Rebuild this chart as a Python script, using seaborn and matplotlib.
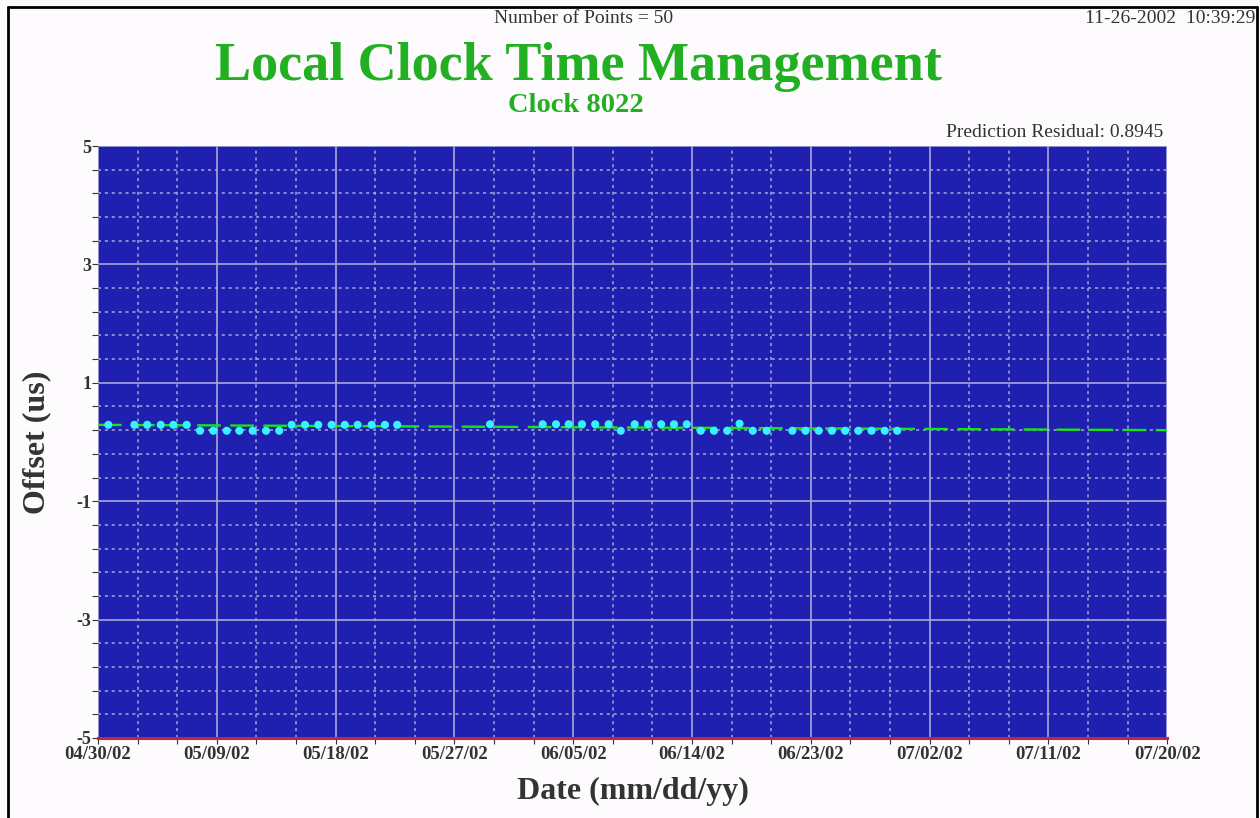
import numpy as np
import pandas as pd
import matplotlib
matplotlib.use("Agg")
import matplotlib.pyplot as plt
import matplotlib.dates as mdates
from matplotlib.ticker import FixedLocator
import seaborn as sns

# ---------------------------------------------------------------------------
# Data
# ---------------------------------------------------------------------------
sample_times = [
    "2002-04-30 18:45", "2002-05-02 18:00", "2002-05-03 17:30", "2002-05-04 18:00",
    "2002-05-05 17:00", "2002-05-06 17:15", "2002-05-07 17:30", "2002-05-08 17:30",
    "2002-05-09 18:00", "2002-05-10 17:00", "2002-05-11 17:15", "2002-05-12 17:30",
    "2002-05-13 17:30", "2002-05-14 16:00", "2002-05-15 16:15", "2002-05-16 16:30",
    "2002-05-17 16:45", "2002-05-18 16:45", "2002-05-19 16:00", "2002-05-20 17:30",
    "2002-05-21 17:45", "2002-05-22 16:00",
    "2002-05-29 16:45", "2002-06-02 16:30", "2002-06-03 16:45", "2002-06-04 15:50",
    "2002-06-05 16:00", "2002-06-06 16:00", "2002-06-07 16:30", "2002-06-08 14:30",
    "2002-06-09 15:50", "2002-06-10 16:00", "2002-06-11 16:00", "2002-06-12 15:20",
    "2002-06-13 14:30", "2002-06-14 15:50", "2002-06-15 16:00", "2002-06-16 16:00",
    "2002-06-17 14:30", "2002-06-18 14:30", "2002-06-19 15:50", "2002-06-21 14:30",
    "2002-06-22 14:30", "2002-06-23 14:30", "2002-06-24 14:30", "2002-06-25 14:30",
    "2002-06-26 14:30", "2002-06-27 14:30", "2002-06-28 14:30", "2002-06-29 13:10",
]
offsets_us = [
    0.29, 0.29, 0.29, 0.29, 0.29, 0.29, 0.19, 0.19, 0.19, 0.19, 0.19, 0.19,
    0.19, 0.29, 0.29, 0.29, 0.29, 0.29, 0.29, 0.29, 0.29, 0.29,
    0.30, 0.30, 0.30, 0.30, 0.30, 0.30, 0.30, 0.19, 0.30, 0.30, 0.30, 0.30,
    0.30, 0.19, 0.19, 0.19,
    0.31, 0.19, 0.19, 0.19, 0.19, 0.19, 0.19, 0.19, 0.19, 0.19, 0.19, 0.19,
]

# linear prediction line
trend_times = ["2002-04-30", "2002-07-20"]
trend_offsets = [0.29, 0.20]

x_start, x_end = "2002-04-30", "2002-07-20"
y_major = [-5, -3, -1, 1, 3, 5]

points = pd.DataFrame({"date": pd.to_datetime(sample_times), "offset": offsets_us})
trend = pd.DataFrame({"date": pd.to_datetime(trend_times), "offset": trend_offsets})

# ---------------------------------------------------------------------------
# Style
# ---------------------------------------------------------------------------
sns.set_theme(style="white")
plt.rcParams["font.family"] = ["Liberation Serif", "DejaVu Serif"]
plt.rcParams["axes.unicode_minus"] = False

PLOT_BG = "#1f1fb0"
GRID = "#a8a8d8"
GREEN = "#22b022"
TEXT = "#333333"

fig = plt.figure(figsize=(12.6, 8.18), dpi=100)
fig.patch.set_facecolor("#fdfbfd")
ax = fig.add_axes([0.0778, 0.0978, 0.8485, 0.7237])
ax.set_facecolor(PLOT_BG)

# ---------------------------------------------------------------------------
# Marks
# ---------------------------------------------------------------------------
sns.lineplot(data=trend, x="date", y="offset", ax=ax, color="#12e812",
             lw=1.7, zorder=3)
ax.lines[-1].set_linestyle((0, (10, 4)))
sns.scatterplot(data=points, x="date", y="offset", ax=ax, color="#38f2ff",
                s=34, edgecolor="none", zorder=4)

# ---------------------------------------------------------------------------
# Axes
# ---------------------------------------------------------------------------
ax.set_xlim(pd.Timestamp(x_start), pd.Timestamp(x_end))
ax.set_ylim(-5, 5)

ax.xaxis.set_major_locator(FixedLocator(
    mdates.date2num(pd.date_range(x_start, x_end, freq="9D"))))
ax.xaxis.set_minor_locator(FixedLocator(
    mdates.date2num(pd.date_range(x_start, x_end, freq="3D"))))
ax.xaxis.set_major_formatter(mdates.DateFormatter("%m/%d/%y"))

ax.yaxis.set_major_locator(FixedLocator(y_major))
ax.yaxis.set_minor_locator(FixedLocator(np.arange(-5, 5.01, 0.4)))

ax.grid(which="major", color=GRID, lw=1.2, ls="-", zorder=1)
ax.grid(which="minor", color=GRID, lw=1.1, ls=(0, (2, 2.5)), zorder=1)
ax.set_axisbelow(True)

for side in ["top", "right", "left"]:
    ax.spines[side].set_visible(False)
ax.spines["bottom"].set_color("#b82848")
ax.spines["bottom"].set_linewidth(2.2)

ax.tick_params(which="both", direction="out", colors=TEXT, bottom=True,
               left=True, length=4, width=0.8)
ax.tick_params(axis="x", which="major", labelsize=13.5, pad=2)
ax.tick_params(axis="y", which="major", labelsize=13, pad=1)
for lab in ax.get_xticklabels() + ax.get_yticklabels():
    lab.set_fontweight("bold")

ax.set_xlabel("Date (mm/dd/yy)", fontsize=23, fontweight="bold",
              color=TEXT, labelpad=10)
ax.set_ylabel("Offset (us)", fontsize=23, fontweight="bold",
              color=TEXT, labelpad=18)

# ---------------------------------------------------------------------------
# Header texts
# ---------------------------------------------------------------------------
fig.text(0.463, 0.977, "Number of Points = 50", ha="center", va="center",
         fontsize=14, color=TEXT)
fig.text(0.996, 0.977, "11-26-2002  10:39:29", ha="right", va="center",
         fontsize=14, color=TEXT)
fig.text(0.459, 0.918, "Local Clock Time Management", ha="center",
         va="center", fontsize=39, fontweight="bold", color=GREEN)
fig.text(0.457, 0.871, "Clock 8022", ha="center", va="center",
         fontsize=20.5, fontweight="bold", color=GREEN)
fig.text(0.923, 0.838, "Prediction Residual: 0.8945", ha="right",
         va="center", fontsize=14, color=TEXT)

# figure frame (left, top, right)
fig.add_artist(plt.Line2D([0.0065, 0.0065], [0, 0.9915], color="black",
                          lw=2, transform=fig.transFigure))
fig.add_artist(plt.Line2D([0.0065, 0.9975], [0.9915, 0.9915], color="black",
                          lw=2, transform=fig.transFigure))
fig.add_artist(plt.Line2D([0.9975, 0.9975], [0, 0.9915], color="black",
                          lw=2, transform=fig.transFigure))

fig.savefig("out.png", dpi=100, facecolor=fig.get_facecolor())
